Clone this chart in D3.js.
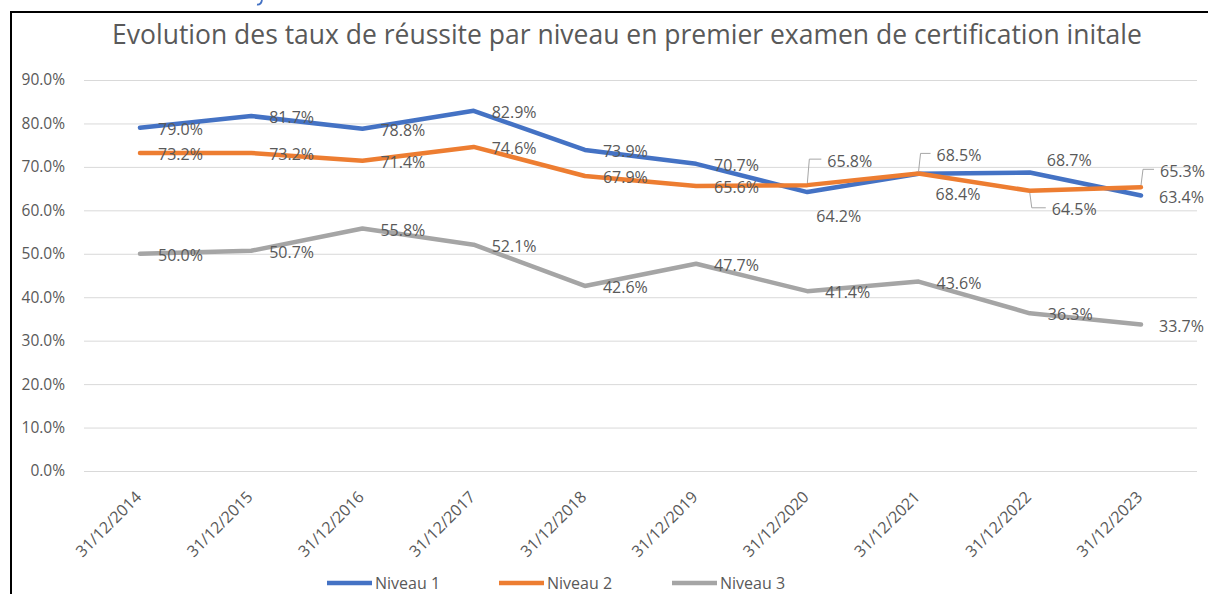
<!DOCTYPE html>
<html>
<head>
<meta charset="utf-8">
<script src="https://cdn.jsdelivr.net/npm/d3@7"></script>
<style>
  html, body { margin: 0; padding: 0; background: #fff; }
  svg { display: block; }
  text { font-family: "Open Sans", "Noto Sans", sans-serif; fill: #595959; }
</style>
</head>
<body>
<svg id="chart" width="1208" height="594"></svg>
<script>
// ---- data ----
const categories = ["31/12/2014","31/12/2015","31/12/2016","31/12/2017","31/12/2018","31/12/2019","31/12/2020","31/12/2021","31/12/2022","31/12/2023"];
const niveau1 = [79.0, 81.7, 78.8, 82.9, 73.9, 70.7, 64.2, 68.4, 68.7, 63.4];
const niveau2 = [73.2, 73.2, 71.4, 74.6, 67.9, 65.6, 65.8, 68.5, 64.5, 65.3];
const niveau3 = [50.0, 50.7, 55.8, 52.1, 42.6, 47.7, 41.4, 43.6, 36.3, 33.7];
const seriesNames = ["Niveau 1", "Niveau 2", "Niveau 3"];
const yTicks = [0, 10, 20, 30, 40, 50, 60, 70, 80, 90];
const titleText = "Evolution des taux de réussite par niveau en premier examen de certification initale";

// ---- layout / style ----
const colors = ["#4472c4", "#ed7d31", "#a5a5a5"];
const series = [niveau1, niveau2, niveau3];
// manual data-label placement tweaks (series index, point index) -> [dx, dy, leader]
const labelNudges = {
  "0-6": [9, 24, false],
  "0-7": [17, 21, false],
  "0-8": [17, -12, false],
  "1-6": [20, -24, true],
  "1-7": [18, -18, true],
  "1-8": [22, 19, true],
  "1-9": [19, -16, true]
};

const svg = d3.select("#chart");
const fmt = d3.format(".1f");

const x = d3.scalePoint().domain(categories).range([140, 1141]);
const y = d3.scaleLinear().domain([0, 90]).range([471, 80]);
const gridLeft = 84, gridRight = 1197;

// chart border (left & top visible)
svg.append("line").attr("x1", 11).attr("x2", 11).attr("y1", 11).attr("y2", 594)
  .attr("stroke", "#000").attr("stroke-width", 2);
svg.append("line").attr("x1", 10).attr("x2", 1208).attr("y1", 12).attr("y2", 12)
  .attr("stroke", "#000").attr("stroke-width", 2);

// cut-off blue glyph fragment above the chart (decorative)
svg.append("path").attr("d", "M262,0 Q261,5 257,4.5")
  .attr("fill", "none").attr("stroke", "#4472c4").attr("stroke-width", 1.8);

// title
const title = svg.append("text").attr("x", 627).attr("y", 44).attr("text-anchor", "middle")
  .style("font-size", "24px").text(titleText);
const tl = title.node().getComputedTextLength();
title.style("font-size", (24 * 1030 / tl).toFixed(2) + "px");

// y gridlines & labels
const yAxis = d3.axisLeft(y).tickValues(yTicks).tickSize(-(gridRight - gridLeft))
  .tickFormat(d => fmt(d) + "%").tickPadding(19);
const gy = svg.append("g").attr("transform", `translate(${gridLeft},0)`).call(yAxis);
gy.select(".domain").remove();
gy.selectAll(".tick line").attr("stroke", "#d9d9d9").attr("stroke-width", 1);
gy.selectAll(".tick text").style("font-size", "15.5px").style("fill", "#595959")
  .attr("font-family", null);

// x axis labels
const xAxis = d3.axisBottom(x).tickSize(0).tickPadding(0);
const gx = svg.append("g").attr("transform", "translate(0,471)").call(xAxis);
gx.select(".domain").remove();
gx.selectAll(".tick text")
  .attr("font-family", null)
  .style("font-size", "16px").style("fill", "#595959")
  .attr("text-anchor", "end")
  .attr("dy", null).attr("y", 0)
  .attr("transform", "translate(2,27) rotate(-45)");

// lines
const line = d3.line().x((d, i) => x(categories[i])).y(d => y(d));
series.forEach((s, k) => {
  svg.append("path").datum(s).attr("d", line).attr("fill", "none")
    .attr("stroke", colors[k]).attr("stroke-width", 4.5)
    .attr("stroke-linejoin", "round").attr("stroke-linecap", "round");
});

// data labels
series.forEach((s, k) => {
  s.forEach((v, i) => {
    const px = x(categories[i]), py = y(v);
    const n = labelNudges[k + "-" + i] || [18, 1.5, false];
    const lx = px + n[0], ly = py + n[1];
    if (n[2]) {
      const hy = ly - 2;
      svg.append("polyline")
        .attr("points", `${px},${py + (hy < py ? -2 : 2)} ${px + 2},${hy} ${lx - 6},${hy}`)
        .attr("fill", "none").attr("stroke", "#a6a6a6").attr("stroke-width", 1);
    }
    svg.append("text").attr("x", lx).attr("y", ly).attr("dy", "0.35em")
      .style("font-size", "16px").text(fmt(v) + "%");
  });
});

// legend
const legendX = [327, 499, 672];
seriesNames.forEach((name, k) => {
  svg.append("line").attr("x1", legendX[k]).attr("x2", legendX[k] + 45)
    .attr("y1", 583).attr("y2", 583)
    .attr("stroke", colors[k]).attr("stroke-width", 4.5);
  svg.append("text").attr("x", legendX[k] + 48).attr("y", 583).attr("dy", "0.35em")
    .style("font-size", "16px").text(name);
});
</script>
</body>
</html>
